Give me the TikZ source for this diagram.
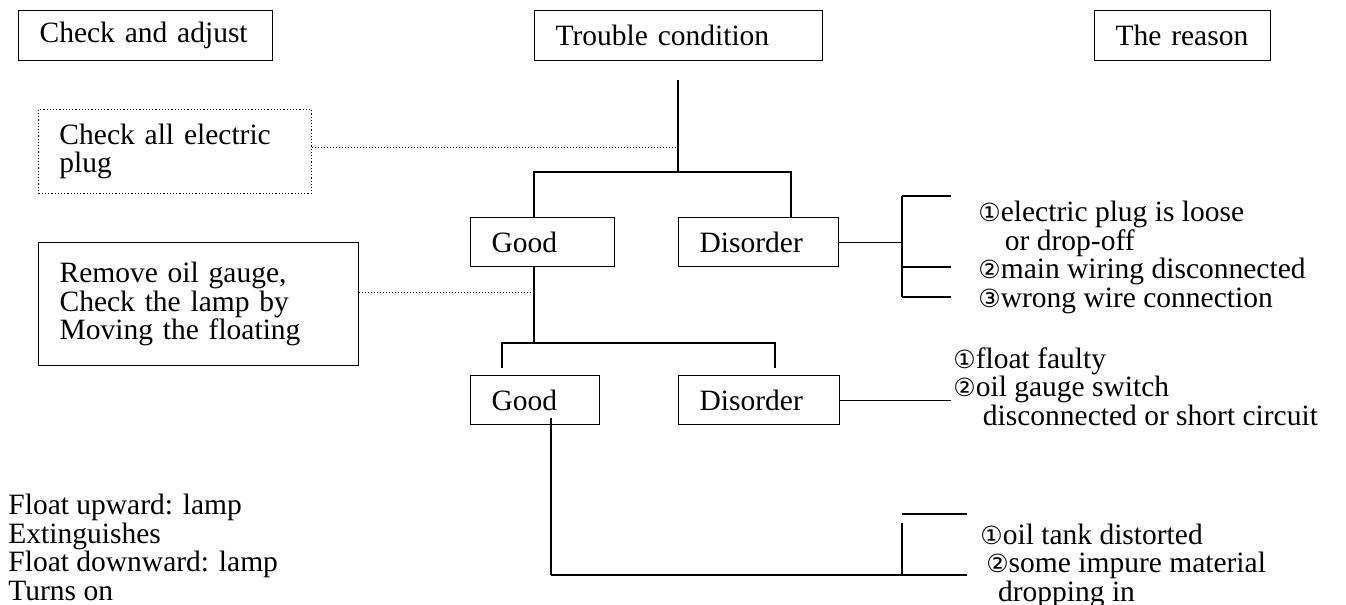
\documentclass[tikz,border=0pt]{standalone}
\usepackage{fontspec}
\setmainfont{Liberation Serif}
\newfontfamily\circfont{DejaVu Sans}
\newcommand{\cnum}[1]{{\circfont\fontsize{12.5pt}{14pt}\selectfont #1}}
\begin{document}
\begin{tikzpicture}[x=0.5pt, y=-0.5pt,
    every node/.style={font=\fontsize{14.75pt}{14.25pt}\selectfont},
    box/.style={draw, line width=0.6pt, anchor=north west, align=left, inner xsep=10.5pt, inner ysep=0pt},
    dotbox/.style={box, densely dotted, line width=0.5pt},
    wire/.style={line width=0.6pt},
    dotline/.style={densely dotted, line width=0.5pt},
    note/.style={anchor=base west, align=left, inner sep=0pt}]
    \useasboundingbox (0,0) rectangle (1346,605);

    % column heads
    \node[box, text width=106pt, minimum height=25pt] (adjust) at (18,10) {Check and adjust};
    \node[box, text width=123pt, minimum height=25pt] (trouble) at (534,10) {Trouble condition};
    \node[box, text width=67pt, minimum height=25pt] (reason) at (1094,10) {The reason};

    % checks
    \node[dotbox, text width=115.5pt, minimum height=42pt] (plug) at (38,109) {Check all electric\\plug};
    \node[box, text width=139pt, minimum height=61.5pt] (remove) at (38,242) {Remove oil gauge,\\Check the lamp by\\Moving the floating};

    \node[box, text width=51pt, minimum height=24.5pt] (good1) at (470,217) {Good};
    \node[box, text width=59pt, minimum height=24.5pt] (dis1) at (678,217) {Disorder};
    \node[box, text width=43.5pt, minimum height=24.5pt] (good2) at (470,375) {Good};
    \node[box, text width=59.5pt, minimum height=24.5pt] (dis2) at (678,375) {Disorder};

    % reasons (placed by their last line)
    \node[note] (r1) at (978,307) {\cnum{①}electric plug is loose\\\hspace*{0.9em}or drop-off\\\cnum{②}main wiring disconnected\\\cnum{③}wrong wire connection};
    \node[note] (r2) at (953,425) {\cnum{①}float faulty\\\cnum{②}oil gauge switch\\\hspace*{1em}disconnected or short circuit};
    \node[note] (r3) at (980,601) {\cnum{①}oil tank distorted\\\hspace*{0.2em}\cnum{②}some impure material\\\hspace*{0.6em}dropping in};
    \node[note] (lamp) at (8,600) {Float upward: lamp\\Extinguishes\\Float downward: lamp\\Turns on};

    \coordinate (t0) at (678,80);
    \coordinate (b1) at (678,172);
    \coordinate (b1l) at (534,172);
    \coordinate (b1r) at (791,172);
    \coordinate (b2) at (534,343);
    \coordinate (b2l) at (502,343);
    \coordinate (b2r) at (775,343);
    \coordinate (g2top) at (502,368);
    \coordinate (d2top) at (775,368);
    \coordinate (d1) at (678,147);
    \coordinate (d2) at (534,292);
    \coordinate (k1) at (902,196);
    \coordinate (k2) at (902,267);
    \coordinate (k3) at (902,297);
    \coordinate (kend) at (951,0);
    \coordinate (g2in) at (551,418);
    \coordinate (c0) at (551,575);
    \coordinate (c1) at (967,575);
    \coordinate (c2) at (902,575);
    \coordinate (c3) at (902,523);
    \coordinate (c4) at (902,514);
    \coordinate (c5) at (967,514);

    \draw[wire] (t0) -- (b1);
    \draw[wire] (good1.north -| b1l) -- (b1l) -- (b1r) -- (b1r |- dis1.north);
    \draw[dotline] (d1 -| plug.east) -- (d1);
    \draw[wire] (good1.south -| b2) -- (b2);
    \draw[wire] (g2top) -- (b2l) -- (b2r) -- (d2top);
    \draw[dotline] (d2 -| remove.east) -- (d2);

    \draw[wire] (dis1.east) -- (dis1.east -| k1);
    \draw[wire] (k1) -- (k3);
    \foreach \k in {k1,k2,k3}
        \draw[wire] (\k) -- (\k -| kend);
    \draw[wire] (dis2.east) -- (dis2.east -| kend);

    \draw[wire] (g2in) -- (c0);
    \draw[line width=1pt] (c0) -- (c1);
    \draw[wire] (c3) -- (c2);
    \draw[wire] (c4) -- (c5);
\end{tikzpicture}
\end{document}
